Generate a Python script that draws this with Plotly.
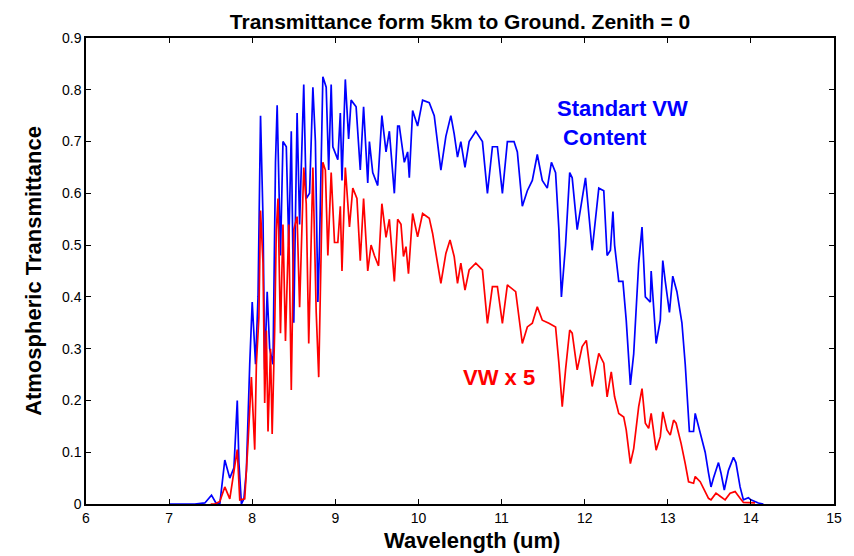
import plotly.graph_objects as go

# Standard water vapour content (blue)
wl_std = [7.00, 7.31, 7.43, 7.51, 7.56, 7.61, 7.67, 7.73, 7.78, 7.82, 7.84, 7.87, 7.90, 7.93, 7.97,
          8.00, 8.04, 8.07, 8.10, 8.13, 8.15, 8.18, 8.21, 8.25, 8.28, 8.30, 8.34, 8.37, 8.41, 8.44,
          8.47, 8.50, 8.54, 8.57, 8.62, 8.65, 8.69, 8.73, 8.76, 8.79, 8.81, 8.85, 8.89, 8.92, 8.95,
          8.97, 9.03, 9.06, 9.08, 9.12, 9.16, 9.19, 9.25, 9.30, 9.34, 9.39, 9.41, 9.45, 9.51, 9.53,
          9.56, 9.61, 9.65, 9.71, 9.75, 9.77, 9.83, 9.87, 9.89, 9.93, 9.99, 10.05, 10.13, 10.19, 10.27,
          10.33, 10.39, 10.43, 10.47, 10.51, 10.56, 10.61, 10.69, 10.77, 10.83, 10.89, 10.95, 11.01,
          11.07, 11.15, 11.19, 11.25, 11.31, 11.37, 11.43, 11.49, 11.55, 11.60, 11.65, 11.69, 11.72,
          11.77, 11.82, 11.85, 11.91, 11.97, 12.01, 12.09, 12.17, 12.23, 12.27, 12.31, 12.34, 12.36,
          12.41, 12.46, 12.50, 12.55, 12.59, 12.65, 12.69, 12.73, 12.79, 12.80, 12.86, 12.91, 12.94,
          12.97, 13.02, 13.06, 13.11, 13.17, 13.21, 13.26, 13.31, 13.33, 13.37, 13.42, 13.45, 13.49,
          13.52, 13.55, 13.61, 13.64, 13.68, 13.73, 13.79, 13.82, 13.87, 13.91, 13.97, 14.00, 14.09, 14.15]
tr_std = [0.0, 0.0, 0.002, 0.017, 0.003, 0.0, 0.085, 0.05, 0.07, 0.20, 0.08, 0.0, 0.01, 0.065, 0.27,
          0.39, 0.27, 0.40, 0.75, 0.55, 0.26, 0.41, 0.30, 0.27, 0.66, 0.77, 0.48, 0.70, 0.69, 0.50,
          0.72, 0.35, 0.755, 0.54, 0.81, 0.59, 0.60, 0.805, 0.70, 0.39, 0.50, 0.825, 0.805, 0.645, 0.81,
          0.69, 0.665, 0.755, 0.625, 0.82, 0.705, 0.78, 0.767, 0.645, 0.767, 0.62, 0.70, 0.64, 0.615, 0.68,
          0.75, 0.68, 0.72, 0.60, 0.73, 0.73, 0.66, 0.68, 0.63, 0.76, 0.73, 0.78, 0.775, 0.75, 0.645,
          0.71, 0.75, 0.715, 0.67, 0.70, 0.65, 0.70, 0.72, 0.70, 0.60, 0.69, 0.69, 0.60,
          0.70, 0.70, 0.68, 0.575, 0.605, 0.625, 0.675, 0.625, 0.61, 0.66, 0.64, 0.53, 0.40,
          0.50, 0.64, 0.63, 0.53, 0.59, 0.63, 0.49, 0.61, 0.605, 0.48, 0.49, 0.565, 0.50,
          0.43, 0.43, 0.355, 0.23, 0.29, 0.465, 0.535, 0.40, 0.39, 0.45, 0.31, 0.355, 0.47,
          0.43, 0.37, 0.44, 0.41, 0.35, 0.27, 0.14, 0.14, 0.175, 0.15, 0.12, 0.10, 0.06,
          0.033, 0.05, 0.08, 0.06, 0.027, 0.065, 0.09, 0.08, 0.033, 0.008, 0.012, 0.008, 0.002, 0.0]

# Water vapour content x 5 (red)
wl_x5 = [7.50, 7.55, 7.61, 7.67, 7.73, 7.79, 7.82, 7.85, 7.91, 7.95, 7.99, 8.03, 8.05, 8.08, 8.10,
         8.13, 8.15, 8.17, 8.19, 8.22, 8.24, 8.27, 8.29, 8.31, 8.34, 8.37, 8.40, 8.44, 8.47, 8.50,
         8.54, 8.57, 8.62, 8.65, 8.68, 8.73, 8.77, 8.80, 8.82, 8.85, 8.88, 8.91, 8.95, 8.99, 9.03,
         9.06, 9.08, 9.12, 9.17, 9.21, 9.26, 9.30, 9.34, 9.39, 9.43, 9.47, 9.52, 9.56, 9.61, 9.65,
         9.71, 9.75, 9.79, 9.82, 9.85, 9.88, 9.93, 9.99, 10.05, 10.13, 10.17, 10.23, 10.27, 10.33,
         10.38, 10.43, 10.47, 10.51, 10.56, 10.61, 10.69, 10.77, 10.83, 10.89, 10.95, 11.01, 11.07,
         11.17, 11.25, 11.31, 11.37, 11.43, 11.49, 11.57, 11.65, 11.69, 11.73, 11.77, 11.82, 11.85,
         11.91, 11.97, 12.02, 12.09, 12.17, 12.23, 12.27, 12.32, 12.36, 12.41, 12.47, 12.50, 12.55,
         12.59, 12.65, 12.69, 12.73, 12.77, 12.80, 12.86, 12.91, 12.94, 12.99, 13.03, 13.07, 13.10,
         13.16, 13.21, 13.25, 13.31, 13.33, 13.39, 13.43, 13.49, 13.52, 13.58, 13.63, 13.69, 13.75,
         13.81, 13.87, 13.91, 14.05]
tr_x5 = [0.0, 0.0, 0.005, 0.033, 0.01, 0.08, 0.105, 0.008, 0.01, 0.12, 0.245, 0.105, 0.27, 0.36, 0.567,
         0.465, 0.195, 0.335, 0.14, 0.30, 0.135, 0.335, 0.53, 0.59, 0.33, 0.54, 0.315, 0.54, 0.22, 0.53,
         0.555, 0.38, 0.65, 0.58, 0.31, 0.65, 0.37, 0.245, 0.40, 0.66, 0.645, 0.48, 0.64, 0.505, 0.505,
         0.575, 0.45, 0.65, 0.535, 0.61, 0.59, 0.47, 0.59, 0.45, 0.50, 0.48, 0.46, 0.58, 0.515, 0.55,
         0.43, 0.55, 0.54, 0.478, 0.497, 0.445, 0.561, 0.516, 0.561, 0.552, 0.523, 0.465, 0.426, 0.484,
         0.51, 0.478, 0.426, 0.465, 0.413, 0.452, 0.465, 0.452, 0.349, 0.42, 0.42, 0.349, 0.423,
         0.41, 0.31, 0.342, 0.349, 0.381, 0.355, 0.349, 0.342, 0.272, 0.188, 0.259, 0.336, 0.33,
         0.259, 0.304, 0.316, 0.227, 0.291, 0.272, 0.207, 0.255, 0.207, 0.175, 0.168, 0.143, 0.078,
         0.107, 0.188, 0.223, 0.156, 0.146, 0.175, 0.104, 0.130, 0.178, 0.143, 0.133, 0.162, 0.156,
         0.117, 0.078, 0.043, 0.040, 0.053, 0.043, 0.030, 0.011, 0.008, 0.021, 0.015, 0.008, 0.021,
         0.024, 0.011, 0.003, 0.002]

x_ticks = [6, 7, 8, 9, 10, 11, 12, 13, 14, 15]
y_ticks = [0, 0.1, 0.2, 0.3, 0.4, 0.5, 0.6, 0.7, 0.8, 0.9]
y_tick_labels = ["0", "0.1", "0.2", "0.3", "0.4", "0.5", "0.6", "0.7", "0.8", "0.9"]

fig = go.Figure()
fig.add_trace(go.Scatter(x=wl_std, y=tr_std, mode="lines", line=dict(color="#0000FF", width=1.7),
                         name="Standart VW Content", showlegend=False))
fig.add_trace(go.Scatter(x=wl_x5, y=tr_x5, mode="lines", line=dict(color="#FF0000", width=1.7),
                         name="VW x 5", showlegend=False))

font_main = "Liberation Sans, Arial, sans-serif"

fig.add_annotation(x=11.64, y=0.735, xref="x", yref="y", xanchor="left", yanchor="middle",
                   text="<b>Standart VW<br> Content</b>", showarrow=False, align="left",
                   font=dict(family=font_main, size=22, color="#0000FF"))
fig.add_annotation(x=10.97, y=0.245, xref="x", yref="y", xanchor="center", yanchor="middle",
                   text="<b>VW x 5</b>", showarrow=False,
                   font=dict(family=font_main, size=22, color="#FF0000"))
# x-axis title (sits slightly right of the plot centre in the reference)
fig.add_annotation(x=0.516, y=-0.079, xref="paper", yref="paper", xanchor="center", yanchor="middle",
                   text="<b>Wavelength (um)</b>", showarrow=False,
                   font=dict(family=font_main, size=22, color="black"))

# page body has an 8px default margin, so the figure is sized to fit the 854x556 window
fig.update_layout(
    width=846, height=548,
    margin=dict(l=78, r=18, t=30, b=52),
    paper_bgcolor="white", plot_bgcolor="white",
    font=dict(family=font_main, color="black"),
    title=dict(text="<b>Transmittance form 5km to Ground. Zenith = 0</b>",
               x=0.5, xref="paper", xanchor="center", y=0.9745, yref="container", yanchor="middle",
               font=dict(family=font_main, size=21, color="black")),
)
fig.update_xaxes(range=[6, 15], tickvals=x_ticks, ticks="inside", ticklen=5, tickwidth=1.2,
                 tickcolor="black", showline=True, linecolor="black", linewidth=1.5, mirror="ticks",
                 showgrid=False, zeroline=False, tickfont=dict(size=14, color="black"))
fig.update_yaxes(range=[0, 0.9], tickvals=y_ticks, ticktext=y_tick_labels, ticks="inside", ticklen=5,
                 tickwidth=1.2, tickcolor="black", showline=True, linecolor="black", linewidth=1.5,
                 mirror="ticks", showgrid=False, zeroline=False, tickfont=dict(size=14, color="black"),
                 title=dict(text="<b>Atmospheric Transmittance</b>", font=dict(size=22, color="black"),
                            standoff=14))

fig.write_html("out.html")
